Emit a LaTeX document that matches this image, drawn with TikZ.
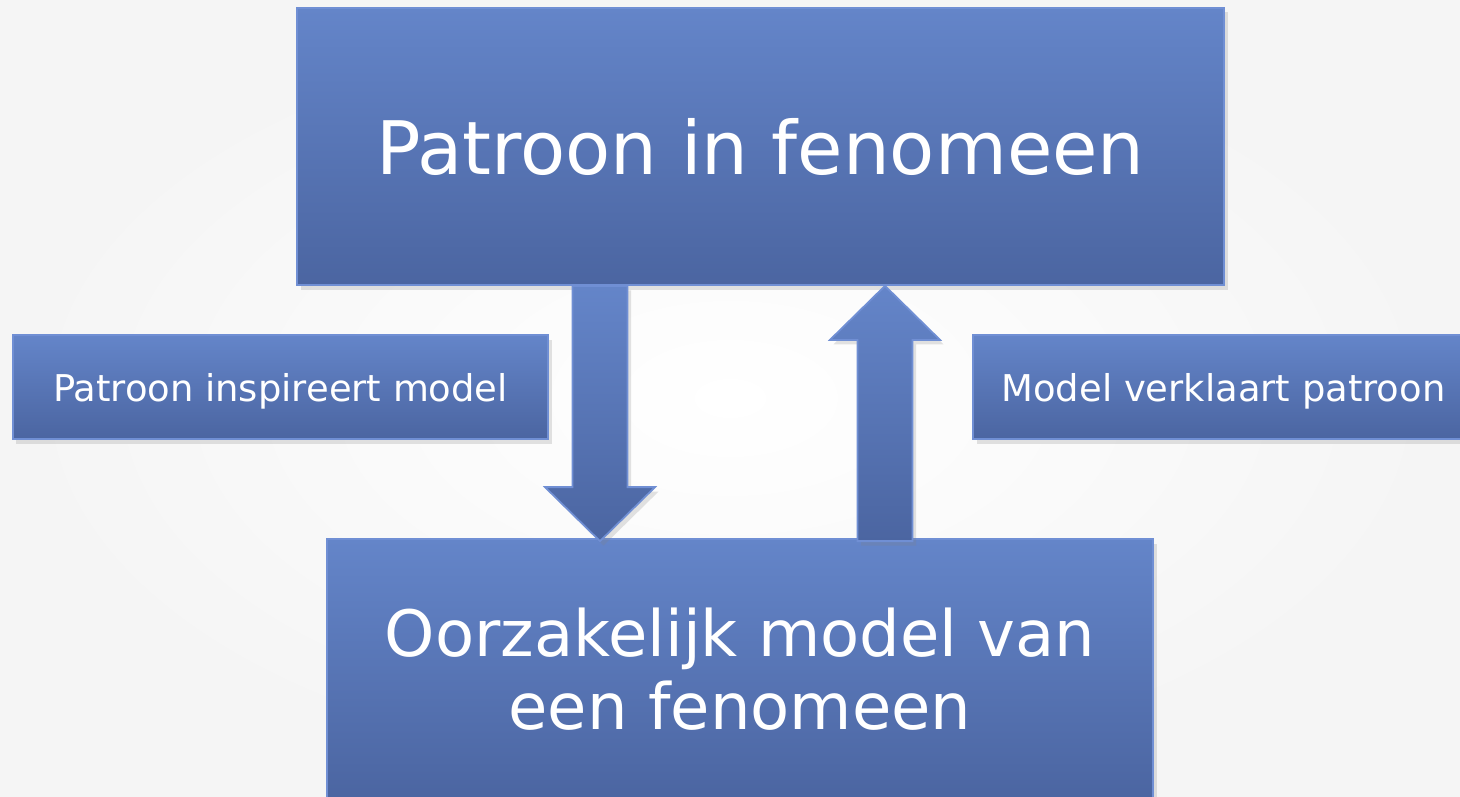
\documentclass[tikz,border=0pt]{standalone}
\usepackage{fontspec}
\setmainfont{DejaVu Sans}
\usetikzlibrary{calc, shadows}
\definecolor{blauhell}{RGB}{100,133,201}
\definecolor{blaudunkel}{RGB}{75,101,161}
\definecolor{blaurand}{RGB}{112,143,212}

\tikzset{
    kasten/.style={rectangle, inner sep=0pt, text=white, align=center,
        draw=blaurand, line width=0.5pt,
        top color=blauhell, bottom color=blaudunkel,
        drop shadow={opacity=0.22, shadow xshift=0.035, shadow yshift=-0.045}},
    grosskasten/.style={kasten, font=\fontsize{21}{25}\selectfont},
    mittelkasten/.style={kasten, font=\fontsize{18.2}{20.8}\selectfont},
    kleinkasten/.style={kasten, minimum height=1.04cm, text depth=0pt,
        font=\fontsize{10.5}{12.6}\selectfont},
    pfeil/.style={draw=blaurand, line width=0.5pt,
        top color=blauhell, bottom color=blaudunkel,
        drop shadow={opacity=0.22, shadow xshift=0.035, shadow yshift=-0.045}}
}

% Blockpfeil von #1 (Ende) nach #2 (Spitze)
\newcommand{\blockpfeil}[2]{%
    \coordinate (kb) at ($(#2)!0.54cm!(#1)$);
    \shadedraw[pfeil] ($(#1)!0.275cm!-90:(#2)$) -- ($(kb)!0.275cm!-90:(#2)$)
        -- ($(kb)!0.55cm!-90:(#2)$) -- (#2) -- ($(kb)!0.55cm!90:(#2)$)
        -- ($(kb)!0.275cm!90:(#2)$) -- ($(#1)!0.275cm!90:(#2)$) -- cycle;
}

\begin{document}
\begin{tikzpicture}

    % Hintergrund
    \useasboundingbox (0,0) rectangle (14.6,7.96);
    \shade[inner color=white, outer color=black!4] (0,0) rectangle (14.6,7.96);

    % Kaesten
    \node[grosskasten, minimum width=9.27cm, minimum height=2.77cm] (oben) at (7.605,6.495) {Patroon in fenomeen};
    \node[mittelkasten, minimum width=8.26cm, minimum height=2.61cm] (unten) at (7.40,1.265) {Oorzakelijk model van\\een fenomeen};
    \node[kleinkasten, minimum width=5.35cm] (links) at (2.805,4.09) {Patroon inspireert model};
    \node[kleinkasten, minimum width=5.01cm] (rechts) at (12.235,4.09) {Model verklaart patroon};

    % Pfeile zwischen den Kaesten
    \coordinate (ab) at ($(oben.south)+(-1.605,0)$);
    \coordinate (ae) at ($(ab |- unten.north)+(0,-0.03)$);
    \coordinate (ue) at ($(oben.south)+(1.245,0)$);
    \coordinate (ua) at ($(ue |- unten.north)+(0,-0.03)$);
    \blockpfeil{ab}{ae}
    \blockpfeil{ua}{ue}

\end{tikzpicture}
\end{document}
